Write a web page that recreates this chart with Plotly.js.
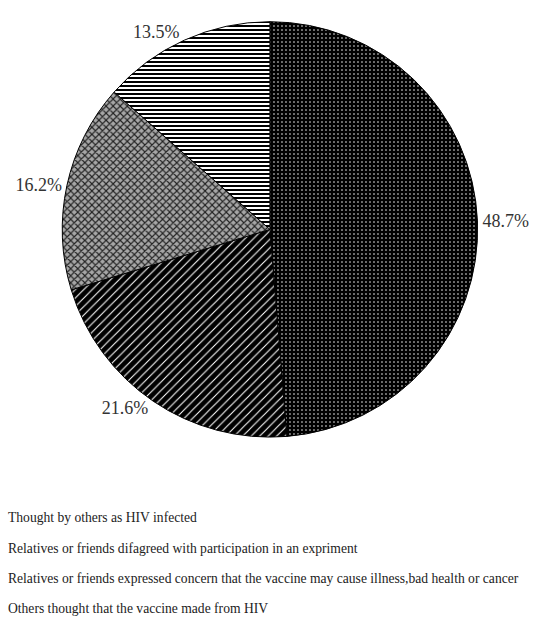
<!DOCTYPE html>
<html>
<head>
<meta charset="utf-8">
<script src="https://cdn.plot.ly/plotly-3.0.1.min.js"></script>
<style>html,body{margin:0;padding:0;background:#fff;}#chart{width:552px;height:620px;}</style>
</head>
<body>
<div id="chart"></div>
<script>
var categories = [
  "Thought by others as HIV infected",
  "Relatives or friends difagreed with participation in an expriment",
  "Relatives or friends expressed concern that the vaccine may cause illness,bad health or cancer",
  "Others thought that the vaccine made from HIV"
];
var percentValues = [48.7, 21.6, 16.2, 13.5];
var sliceLabels = ["48.7%", "21.6%", "16.2%", "13.5%"];

var legendLabels = categories.map(function (c) {
  return '<span style="font-size:13.6px">' + c + '</span>';
});

var trace = {
  type: 'pie',
  labels: legendLabels,
  values: percentValues,
  text: sliceLabels,
  textinfo: 'text',
  textposition: 'outside',
  sort: false,
  direction: 'clockwise',
  rotation: 0,
  hoverinfo: 'label+text',
  outsidetextfont: {family: 'Liberation Serif, Times New Roman, serif', size: 18, color: '#333'},
  marker: {
    colors: ['#000000', '#000000', '#a6a6a6', '#ffffff'],
    line: {color: '#000', width: 1},
    pattern: {
      shape: ['.', '/', 'x', '-'],
      fillmode: 'replace',
      bgcolor: ['#000000', '#000000', '#a6a6a6', '#ffffff'],
      fgcolor: ['#ffffff', '#ffffff', '#222222', '#000000'],
      size: [4, 6, 5, 4],
      solidity: [0.12, 0.18, 0.4, 0.5]
    }
  },
  domain: {x: [0.112, 0.866], y: [0.295, 0.965]}
};

var layout = {
  width: 552,
  height: 620,
  margin: {l: 0, r: 0, t: 0, b: 0, autoexpand: false},
  paper_bgcolor: '#fff',
  plot_bgcolor: '#fff',
  font: {family: 'Liberation Serif, Times New Roman, serif', color: '#222'},
  showlegend: true,
  legend: {
    xref: 'paper', yref: 'paper',
    x: -0.058, y: 0.203,
    xanchor: 'left', yanchor: 'top',
    font: {family: 'Liberation Serif, Times New Roman, serif', size: 21, color: '#222'},
    bgcolor: 'rgba(0,0,0,0)'
  }
};

Plotly.newPlot('chart', [trace], layout, {displayModeBar: false, staticPlot: true});
</script>
</body>
</html>
